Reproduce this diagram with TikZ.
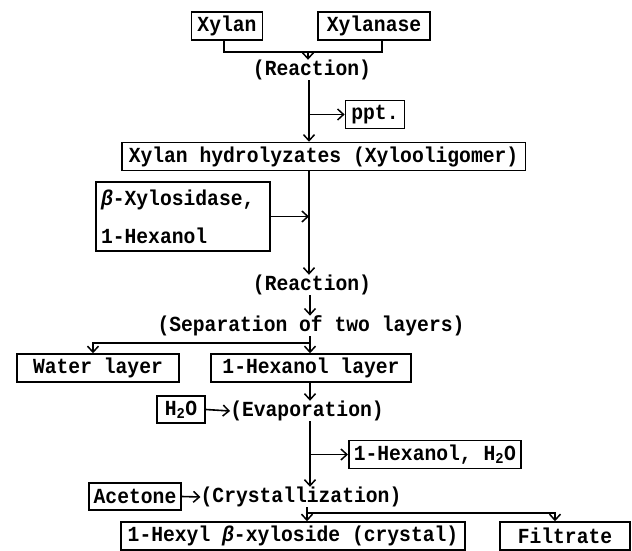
\documentclass[tikz,border=0pt]{standalone}
\usepackage{fontspec}
\setmonofont[FakeStretch=0.915]{Liberation Mono}
\usetikzlibrary{arrows.meta}
\begin{document}
\begin{tikzpicture}[x=1pt,y=-1pt,
  every node/.style={font=\fontsize{21.5}{25}\selectfont\ttfamily\bfseries, inner sep=0pt},
  box/.style={draw, line width=1.5pt, minimum height=28pt, inner xsep=6pt},
  lbl/.style={inner sep=0pt},
  con/.style={line width=1.6pt},
  arr/.style={con, -{Straight Barb[length=6pt,width=11pt,line width=1.5pt]}},
]
\useasboundingbox (0,0) rectangle (632,551);
% nodes
\node[box, minimum width=68pt] (xylan) at (227,26) {Xylan};
\node[box, minimum width=112pt] (xylanase) at (374,26) {Xylanase};
\node[lbl] (r1) at (312,70) {(Reaction)};
\node[box, minimum width=54pt] (ppt) at (375,114.5) {ppt.};
\node[box, anchor=west, inner xsep=7pt] (hydro) at (121,156.5) {Xylan hydrolyzates (Xylooligomer)};
\node[box, text width=164pt, inner xsep=5pt, minimum height=69pt, align=left] (beta) at (183,216.5) {{\itshape β}-Xylosidase,\\[13pt]1-Hexanol};
\node[lbl] (r2) at (312,285) {(Reaction)};
\node[lbl] (sep) at (311,326) {(Separation of two layers)};
\node[box, minimum width=162pt] (water) at (98,368) {Water layer};
\node[box, minimum width=200pt] (hexl) at (311,368) {1-Hexanol layer};
\node[box, minimum width=48pt, minimum height=27pt, inner xsep=3pt] (h2o) at (181,409.5) {H\textsubscript{2}O};
\node[lbl] (evap) at (307,411) {(Evaporation)};
\node[box, anchor=west, inner xsep=5pt] (hexh2o) at (348,454.5) {1-Hexanol, H\textsubscript{2}O};
\node[box, minimum width=92pt, minimum height=27pt, inner xsep=4pt] (acet) at (135,496.5) {Acetone};
\node[lbl] (cryst) at (301,497) {(Crystallization)};
\node[box, minimum width=344pt, inner xsep=4pt] (crys) at (293,536) {1-Hexyl {\itshape β}-xyloside (crystal)};
\node[box, minimum width=130pt] (filt) at (565,536) {Filtrate};
% junction coordinates
\coordinate (b1) at (224,52);
\coordinate (b2) at (382,52);
\coordinate (j1) at (308,52);
\coordinate (m1) at (309,114.5);
\coordinate (m2) at (309,216.5);
\coordinate (m3) at (310,343);
\coordinate (m4) at (310,454.5);
\coordinate (m5) at (307,513);
\coordinate (f1) at (555,513);
% connectors
\draw[con] (xylan.south -| b1) |- (b2) -- (xylanase.south -| b2);
\draw[arr] (j1) -- (r1.north -| j1);
\draw[con] (r1.south -| m1) -- (m1);
\draw[arr] (m1) -- (ppt.west);
\draw[arr] (m1) -- (hydro.north -| m1);
\draw[arr] (hydro.south -| m2) -- (r2.north -| m2);
\draw[arr] (beta.east) -- (m2);
\draw[arr] (r2.south -| m3) -- (sep.north -| m3);
\draw[con] (sep.south -| m3) -- (m3);
\draw[arr] (m3) -- (hexl.north -| m3);
\draw[arr] (m3) -| (water.north -| 93,0);
\draw[arr] (hexl.south -| m4) -- (evap.north -| m4);
\draw[arr] (h2o.east) -- (evap.west);
\draw[con] (evap.south -| m4) -- (m4);
\draw[arr] (m4) -- (hexh2o.west);
\draw[arr] (m4) -- (cryst.north -| m4);
\draw[arr] (acet.east) -- (cryst.west);
\draw[con] (cryst.south -| m5) -- (m5);
\draw[arr] (m5) -- (crys.north -| m5);
\draw[arr] (m5) -- (f1) -- (f1 |- filt.north);
\end{tikzpicture}
\end{document}
